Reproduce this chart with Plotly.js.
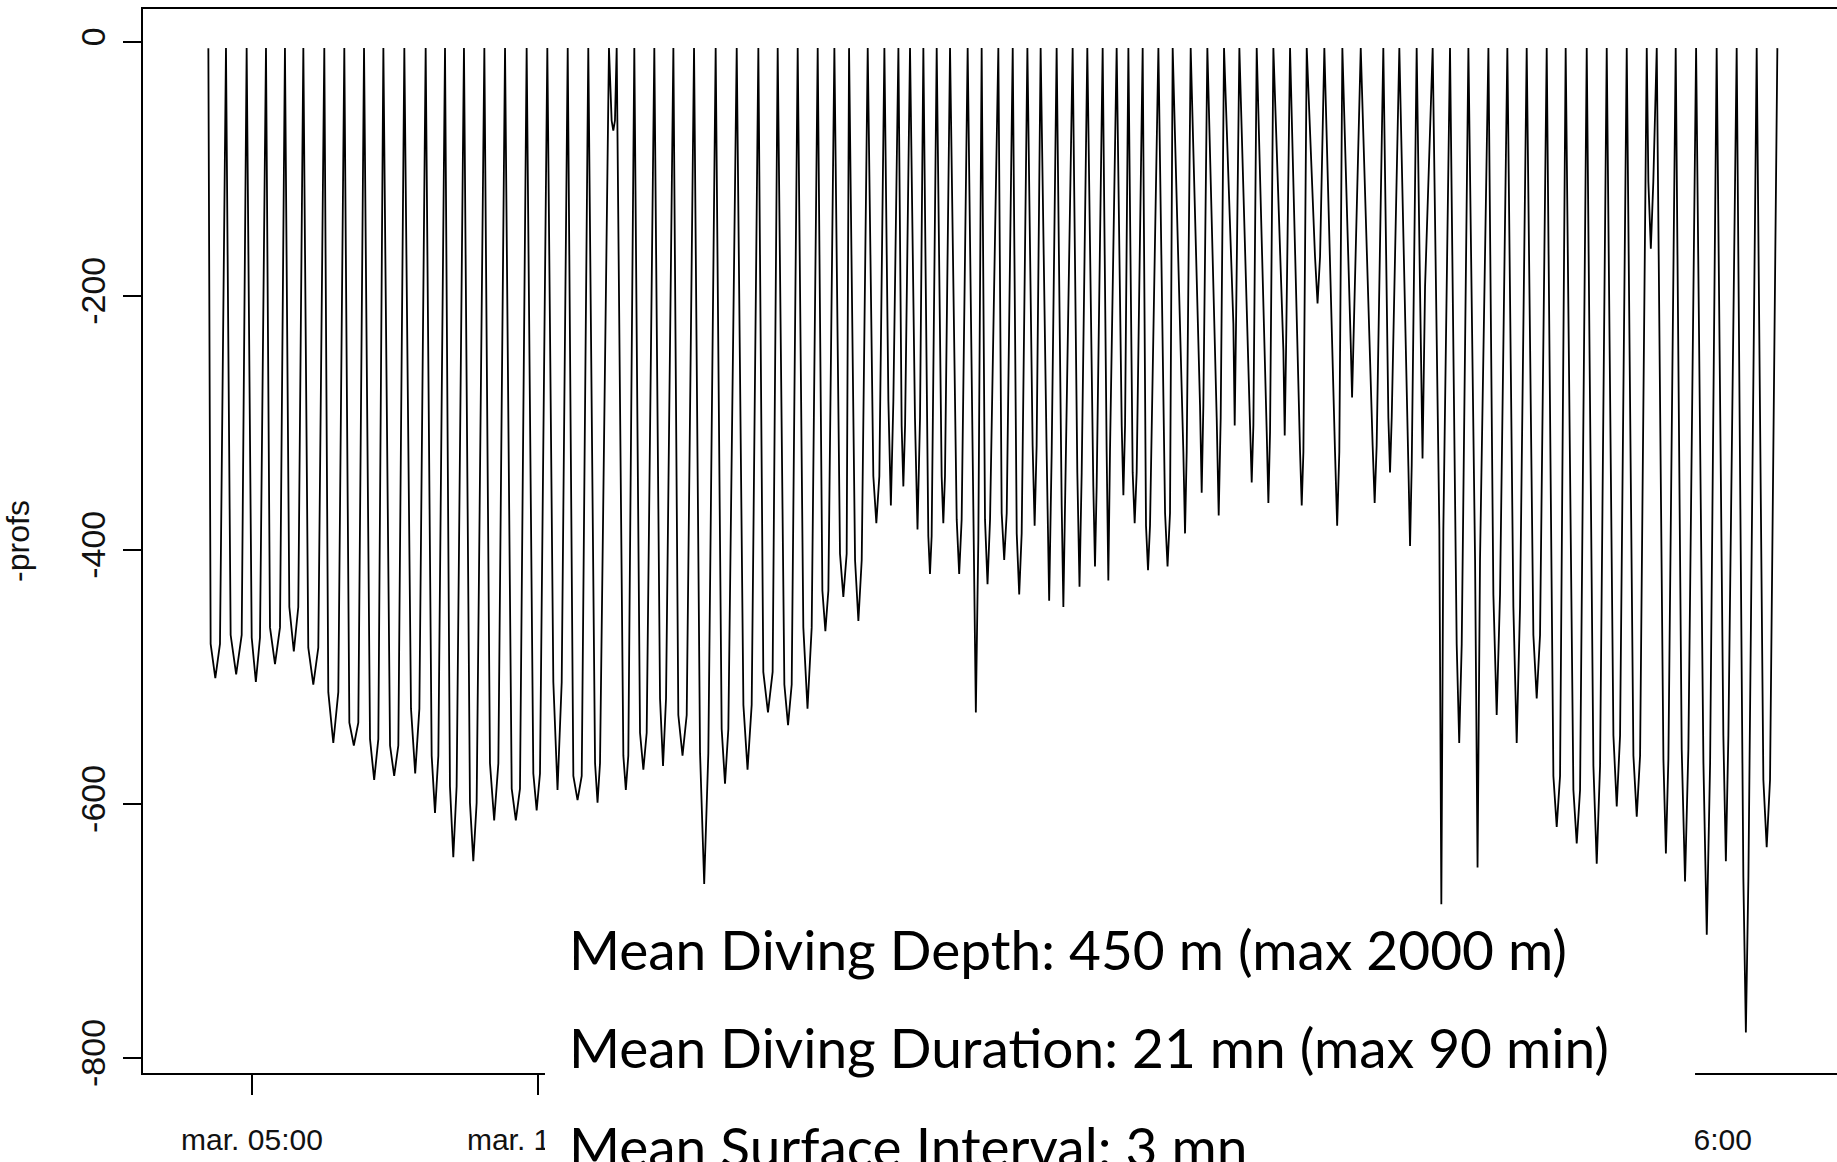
<!DOCTYPE html>
<html>
<head>
<meta charset="utf-8">
<script src="https://cdn.plot.ly/plotly-3.0.1.min.js"></script>
<style>
  html, body { margin: 0; padding: 0; background: #ffffff; }
  #chart { width: 1837px; height: 1162px; }
</style>
</head>
<body>
<div id="chart"></div>
<script>
// ---- data (time in minutes since Tuesday 00:00, depth in metres) ----
const diveStart = [
  254.2, 272.7, 294.4, 314.7, 334.6, 353.9, 375.9, 396.9, 417.6, 437.9,
  459.9, 482.3, 502.6, 522.5, 543.9, 565.6, 588.3, 610.0, 631.4, 653.0,
  674.7, 682.8, 701.3, 722.3, 742.3, 764.0, 786.7, 808.8, 831.5, 851.8,
  872.8, 893.8, 911.3, 926.7, 946.3, 963.8, 978.5, 990.7, 1004.7, 1018.7,
  1032.7, 1051.2, 1065.9, 1083.4, 1098.5, 1113.9, 1127.8, 1144.6, 1161.4, 1176.8,
  1192.9, 1207.6, 1219.9, 1234.9, 1251.4, 1266.4, 1285.3, 1302.8, 1320.3, 1336.4,
  1354.6, 1372.1, 1389.6, 1407.1, 1425.6, 1444.5, 1463.8, 1487.5, 1504.3, 1522.5,
  1539.3, 1557.5, 1576.8, 1597.8, 1617.7, 1638.0, 1659.0, 1678.9, 1701.0, 1722.0,
  1743.0, 1764.0, 1774.5, 1794.4, 1815.8, 1837.4, 1858.4, 1879.4
];
const lastSurfacing = 1901.1;
const bottomStart = [
  256.6, 277.6, 299.7, 318.9, 339.2, 359.1, 380.1, 402.2, 423.9, 444.9,
  466.9, 488.6, 507.8, 528.8, 549.8, 572.6, 595.3, 616.3, 637.3, 660.1,
  677.5, 689.8, 707.3, 728.3, 747.5, 770.3, 793.0, 815.8, 836.7, 858.8,
  878.7, 898.7, 917.2, 933.0, 952.2, 968.0, 981.9, 995.9, 1009.9, 1023.9,
  1039.7, 1057.2, 1069.4, 1086.9, 1102.7, 1119.4, 1134.1, 1149.9, 1166.3, 1183.1,
  1197.1, 1212.9, 1224.4, 1238.4, 1258.4, 1277.6, 1295.1, 1312.6, 1330.1, 1347.6,
  1365.1, 1382.6, 1400.1, 1415.8, 1436.8, 1453.3, 1476.3, 1492.8, 1513.8, 1526.0,
  1546.3, 1564.5, 1583.8, 1603.0, 1624.0, 1645.0, 1666.0, 1687.0, 1708.0, 1729.0,
  1750.0, 1765.7, 1781.5, 1800.7, 1823.5, 1844.4, 1865.4, 1886.4
];
const bottomEnd = [
  266.4, 289.2, 308.4, 329.4, 348.6, 369.6, 390.6, 411.6, 432.6, 453.6,
  475.7, 495.6, 514.8, 535.8, 558.6, 581.3, 602.3, 625.1, 646.1, 665.3,
  681.0, 695.0, 714.3, 734.6, 756.3, 779.0, 800.0, 824.5, 846.5, 866.5,
  887.5, 905.0, 924.2, 940.0, 958.5, 973.2, 985.5, 1001.2, 1013.4, 1027.4,
  1044.9, 1062.4, 1074.7, 1092.2, 1107.9, 1123.6, 1139.4, 1153.4, 1170.9, 1186.6,
  1200.6, 1216.4, 1228.6, 1242.6, 1263.6, 1281.1, 1298.6, 1316.8, 1332.9, 1351.1,
  1368.6, 1385.4, 1403.6, 1421.1, 1441.3, 1456.1, 1480.5, 1496.3, 1517.3, 1531.3,
  1550.5, 1569.8, 1589.0, 1610.0, 1631.0, 1652.0, 1673.0, 1694.0, 1715.0, 1736.0,
  1757.0, 1770.9, 1786.7, 1807.7, 1830.5, 1849.7, 1870.7, 1893.4
];
const bottomTop = [
  -474, -467, -469, -461, -445, -477, -512, -536, -549, -554,
  -525, -562, -586, -599, -568, -588, -576, -504, -578, -568,
  -62, -562, -544, -517, -530, -560, -541, -522, -496, -506,
  -461, -432, -403, -408, -342, -283, -302, -296, -389, -342,
  -376, -392, -376, -371, -387, -318, -323, -365, -339, -350,
  -323, -302, -339, -381, -371, -323, -286, -296, -222, -302,
  -307, -243, -323, -169, -323, -238, -318, -296, -334, -193,
  -384, -474, -408, -435, -445, -467, -578, -589, -570, -546,
  -562, -110, -565, -557, -568, -546, -658, -581
];
const bottomMax = [
  -501, -498, -504, -490, -480, -506, -552, -554, -581, -578,
  -576, -607, -642, -645, -613, -613, -605, -589, -597, -599,
  -70, -589, -573, -570, -562, -663, -584, -573, -528, -538,
  -525, -464, -437, -456, -379, -365, -350, -384, -419, -379,
  -419, -528, -427, -408, -435, -381, -440, -445, -429, -413,
  -424, -357, -379, -416, -413, -387, -355, -373, -302, -347,
  -363, -310, -365, -206, -381, -280, -363, -339, -397, -328,
  -679, -552, -650, -530, -552, -517, -618, -631, -647, -602,
  -610, -163, -639, -661, -703, -645, -780, -634
];
const surfaceDepth = -5;

// tick labels: the middle ones are hidden under the text box in the original
const xTickVals = [300, 600, 900, 1200, 1500, 1800];
const xTickText = ['mar. 05:00', 'mar. 10:00', '', '', '', 'mer. 06:00'];
const yTickVals = [0, -200, -400, -600, -800];
const yTickText = ['0', '-200', '-400', '-600', '-800'];
const yTitle = '-profs';
const notes = [
  'Mean Diving Depth: 450 m (max 2000 m)',
  'Mean Diving Duration: 21 mn (max 90 min)',
  'Mean Surface Interval: 3 mn'
];

// ---- build the dive profile polyline from the per-dive values ----
const xs = [], ys = [];
for (let i = 0; i < diveStart.length; i++) {
  xs.push(diveStart[i]);   ys.push(surfaceDepth);
  xs.push(bottomStart[i]); ys.push(bottomTop[i]);
  xs.push((bottomStart[i] + bottomEnd[i]) / 2); ys.push(bottomMax[i]);
  xs.push(bottomEnd[i]);   ys.push(bottomTop[i]);
}
xs.push(lastSurfacing); ys.push(surfaceDepth);

const axisFont = 'Liberation Sans, Arial, Helvetica, sans-serif';

const trace = {
  type: 'scatter', mode: 'lines', x: xs, y: ys,
  line: { color: '#000000', width: 1.8 },
  hoverinfo: 'skip'
};

const noteY = [0.1161, 0.0240, -0.0682];
const annotations = notes.map((t, i) => ({
  text: t, xref: 'paper', yref: 'paper', x: 0.2503, y: noteY[i],
  xanchor: 'left', yanchor: 'middle', showarrow: false,
  font: { family: 'Lato, Open Sans, sans-serif', size: 55, color: '#000000' }
}));

const layout = {
  width: 1837, height: 1162,
  margin: { l: 143, r: 0, t: 9, b: 89, pad: 0 },
  paper_bgcolor: '#ffffff', plot_bgcolor: '#ffffff',
  showlegend: false,
  xaxis: {
    range: [185.6, 1963.7],
    tickmode: 'array', tickvals: xTickVals, ticktext: xTickText,
    ticks: 'outside', ticklen: 20, tickwidth: 2, tickcolor: '#000000',
    showline: true, linecolor: '#000000', linewidth: 2, mirror: true,
    showgrid: false, zeroline: false,
    tickfont: { family: axisFont, size: 30, color: '#111111' },
    ticklabelstandoff: 19
  },
  yaxis: {
    range: [-811.8, 25.8],
    tickmode: 'array', tickvals: yTickVals, ticktext: yTickText,
    ticks: 'outside', ticklen: 18, tickwidth: 2, tickcolor: '#000000',
    showline: true, linecolor: '#000000', linewidth: 2,
    showgrid: false, zeroline: false, tickangle: -90,
    tickfont: { family: axisFont, size: 34, color: '#111111' },
    ticklabelstandoff: 4,
    title: { text: yTitle, font: { family: axisFont, size: 32, color: '#111111' }, standoff: 44 }
  },
  shapes: [{
    type: 'rect', xref: 'paper', yref: 'paper',
    x0: 0.2373, x1: 0.9162, y0: -0.12, y1: 0.158,
    fillcolor: '#ffffff', line: { width: 0 }, layer: 'above'
  }],
  annotations: annotations
};

Plotly.newPlot('chart', [trace], layout, { displayModeBar: false, staticPlot: true });
</script>
</body>
</html>
